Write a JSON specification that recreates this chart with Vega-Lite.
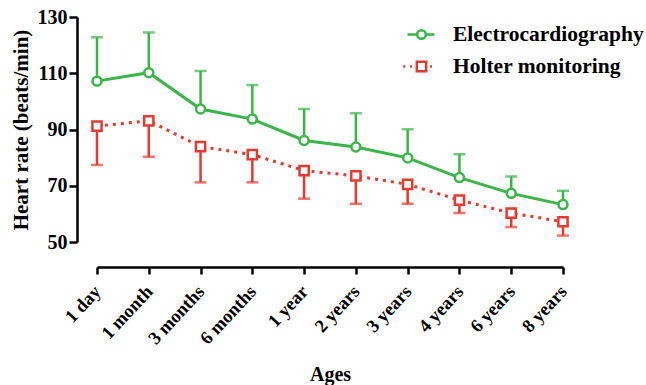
{
  "$schema": "https://vega.github.io/schema/vega-lite/v6.json",
  "autosize": {"type": "none"},
  "padding": {"left": 97, "top": 17, "right": 83, "bottom": 143},
  "width": 466,
  "height": 225,
  "background": "white",
  "config": {
    "view": {"stroke": null},
    "axis": {
      "domainColor": "black", "domainWidth": 2.5, "tickColor": "black", "tickWidth": 2.5,
      "titleFont": "Liberation Serif", "titleFontWeight": "bold", "titleColor": "black",
      "labelFont": "Liberation Serif", "labelFontWeight": "bold", "labelColor": "black", "grid": false
    },
    "axisX": {"labelFontSize": 18.5, "labelAngle": -47, "labelPadding": 14, "tickSize": 7, "offset": 25, "titlePadding": 17, "titleFontSize": 20},
    "axisY": {"labelFontSize": 20, "labelPadding": 2, "tickSize": 8, "offset": 20, "titlePadding": 6, "titleFontSize": 21}
  },
  "data": {
    "values": [
      {"age": "1 day", "series": "Electrocardiography", "mean": 107.2, "bar": 122.8},
      {"age": "1 month", "series": "Electrocardiography", "mean": 110.2, "bar": 124.5},
      {"age": "3 months", "series": "Electrocardiography", "mean": 97.3, "bar": 110.8},
      {"age": "6 months", "series": "Electrocardiography", "mean": 93.7, "bar": 105.8},
      {"age": "1 year", "series": "Electrocardiography", "mean": 86.1, "bar": 97.3},
      {"age": "2 years", "series": "Electrocardiography", "mean": 83.8, "bar": 95.8},
      {"age": "3 years", "series": "Electrocardiography", "mean": 79.9, "bar": 90.1},
      {"age": "4 years", "series": "Electrocardiography", "mean": 72.9, "bar": 81.2},
      {"age": "6 years", "series": "Electrocardiography", "mean": 67.3, "bar": 73.3},
      {"age": "8 years", "series": "Electrocardiography", "mean": 63.3, "bar": 68.2},
      {"age": "1 day", "series": "Holter monitoring", "mean": 91.2, "bar": 77.4},
      {"age": "1 month", "series": "Holter monitoring", "mean": 93.1, "bar": 80.3},
      {"age": "3 months", "series": "Holter monitoring", "mean": 83.9, "bar": 71.2},
      {"age": "6 months", "series": "Holter monitoring", "mean": 81.1, "bar": 71.2},
      {"age": "1 year", "series": "Holter monitoring", "mean": 75.4, "bar": 65.4},
      {"age": "2 years", "series": "Holter monitoring", "mean": 73.5, "bar": 63.6},
      {"age": "3 years", "series": "Holter monitoring", "mean": 70.5, "bar": 63.6},
      {"age": "4 years", "series": "Holter monitoring", "mean": 64.9, "bar": 60.3},
      {"age": "6 years", "series": "Holter monitoring", "mean": 60.3, "bar": 55.3},
      {"age": "8 years", "series": "Holter monitoring", "mean": 57.2, "bar": 52.3}
    ]
  },
  "encoding": {
    "x": {
      "field": "age", "type": "ordinal", "sort": null,
      "scale": {"type": "point", "padding": 0},
      "axis": {"title": "Ages"}
    }
  },
  "layer": [
    {
      "mark": {"type": "rule", "strokeWidth": 2.5},
      "encoding": {
        "y": {"field": "mean", "type": "quantitative", "scale": {"domain": [50, 130], "nice": false, "zero": false}, "axis": {"title": "Heart rate (beats/min)", "values": [50, 70, 90, 110, 130]}},
        "y2": {"field": "bar"},
        "color": {
          "field": "series", "type": "nominal",
          "scale": {"domain": ["Electrocardiography", "Holter monitoring"], "range": ["#3bb54a", "#e53a31"]},
          "legend": {
            "title": null, "orient": "none", "legendX": 310, "legendY": 3,
            "labelFont": "Liberation Serif", "labelFontSize": 21.5, "labelFontWeight": "bold", "labelColor": "black", "labelOffset": 17, "labelLimit": 0,
            "symbolSize": 676, "symbolStrokeWidth": 2.5, "rowPadding": 7,
            "encoding": {
              "symbols": {
                "shape": {"value": {"expr": "datum.value === 'Electrocardiography' ? 'M-1.08,0L-0.33,0M0.33,0L1,0M0.33,0A0.33,0.33 0 1 1 -0.33,0A0.33,0.33 0 1 1 0.33,0M0.33,0A0.33,0.33 0 1 0 -0.33,0A0.33,0.33 0 1 0 0.33,0' : 'M-1.4,0L-1.25,0M-0.88,0L-0.73,0M-0.36,-0.36L0.36,-0.36L0.36,0.36L-0.36,0.36ZM-0.36,-0.36L-0.36,0.36L0.36,0.36L0.36,-0.36ZM0.66,0L0.81,0'"}},
                "opacity": {"value": 1}
              }
            }
          }
        }
      }
    },
    {
      "mark": {"type": "tick", "thickness": 2.5, "size": 12, "orient": "horizontal"},
      "encoding": {
        "y": {"field": "bar", "type": "quantitative"},
        "color": {"field": "series", "type": "nominal", "legend": null}
      }
    },
    {
      "transform": [{"filter": "datum.series === 'Electrocardiography'"}],
      "mark": {"type": "line", "strokeWidth": 3},
      "encoding": {
        "y": {"field": "mean", "type": "quantitative"},
        "color": {"field": "series", "type": "nominal", "legend": null}
      }
    },
    {
      "transform": [{"filter": "datum.series === 'Holter monitoring'"}],
      "mark": {"type": "line", "strokeWidth": 3, "strokeDash": [3, 5]},
      "encoding": {
        "y": {"field": "mean", "type": "quantitative"},
        "color": {"field": "series", "type": "nominal", "legend": null}
      }
    },
    {
      "transform": [{"filter": "datum.series === 'Electrocardiography'"}],
      "mark": {"type": "point", "shape": "circle", "filled": false, "fill": "white", "fillOpacity": 1, "opacity": 1, "strokeWidth": 2.5, "size": 80},
      "encoding": {
        "y": {"field": "mean", "type": "quantitative"},
        "color": {"field": "series", "type": "nominal", "legend": null}
      }
    },
    {
      "transform": [{"filter": "datum.series === 'Holter monitoring'"}],
      "mark": {"type": "point", "shape": "square", "filled": false, "fill": "white", "fillOpacity": 1, "opacity": 1, "strokeWidth": 2.5, "size": 85},
      "encoding": {
        "y": {"field": "mean", "type": "quantitative"},
        "color": {"field": "series", "type": "nominal", "legend": null}
      }
    }
  ]
}
